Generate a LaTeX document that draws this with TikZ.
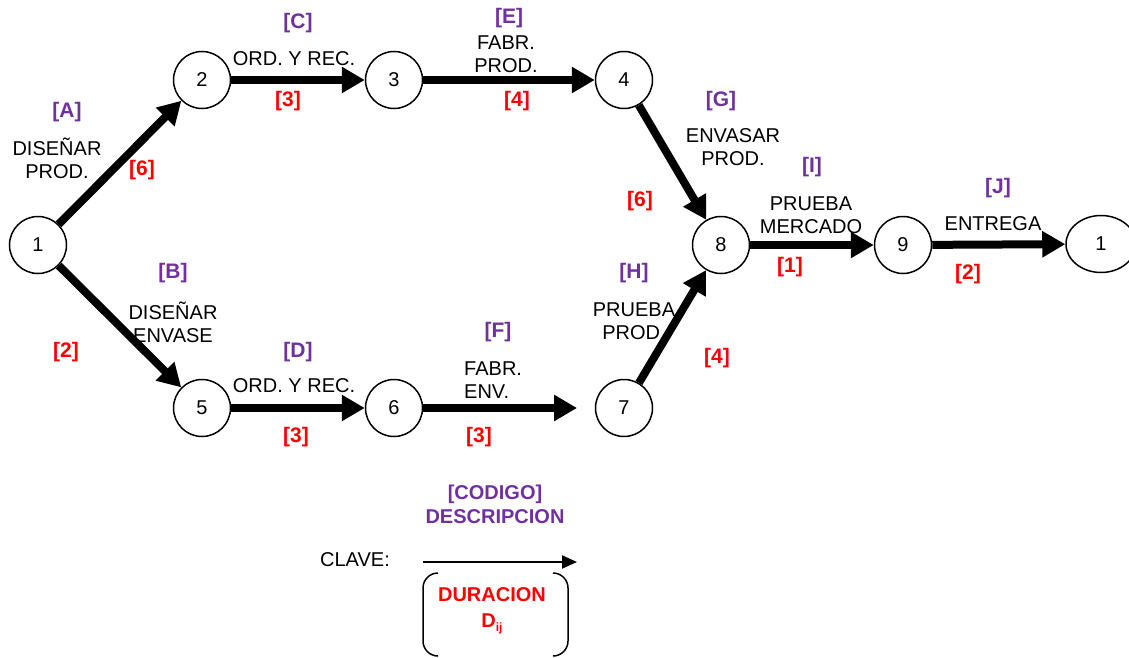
\documentclass[tikz,border=0pt]{standalone}
\usepackage{fontspec}
\setmainfont{Liberation Sans}
\usetikzlibrary{arrows.meta, shapes.geometric}
\definecolor{codigo}{HTML}{7030A0}
\definecolor{duracion}{HTML}{FF0000}

\begin{document}
\begin{tikzpicture}[x=1pt, y=-1pt,
    evento/.style = {draw, circle, line width=1.5pt, minimum size=57pt, inner sep=0pt,
                     font=\fontsize{20}{23}\selectfont},
    act/.style    = {line width=8pt, -{Triangle[length=23pt, width=25pt]}},
    txt/.style    = {align=center, inner sep=0pt, font=\fontsize{20}{23}\selectfont},
    cod/.style    = {txt, text=codigo, font=\fontsize{21}{24}\selectfont\bfseries},
    dur/.style    = {txt, text=duracion, font=\fontsize{21}{24}\selectfont\bfseries}]
    \useasboundingbox (0,0) rectangle (1129,658);

    % events
    \node [evento] (e1) at (38,245) {1};
    \node [evento] (e2) at (202,80) {2};
    \node [evento] (e3) at (394,80) {3};
    \node [evento] (e4) at (624,80) {4};
    \node [evento] (e5) at (202,408) {5};
    \node [evento] (e6) at (394,408) {6};
    \node [evento] (e7) at (624,408) {7};
    \node [evento] (e8) at (721,245) {8};
    \node [evento] (e9) at (903,245) {9};
    \node [evento, ellipse, minimum width=70pt, minimum height=57pt] (e10) at (1101,244) {1};
    \coordinate (f7) at (577,408);

    % activities
    \draw [act] (e1) -- (e2);
    \draw [act] (e1) -- (e5);
    \draw [act] (e2) -- (e3);
    \draw [act] (e3) -- (e4);
    \draw [act] (e5) -- (e6);
    \draw [act] (e6) -- (f7);
    \draw [act] (e4) -- (e8);
    \draw [act] (e7) -- (e8);
    \draw [act] (e8) -- (e9);
    \draw [act] (e9) -- (e10);

    % A
    \node [cod] (cA) at (67,112) {[A]};
    \node [txt] (dA) at (57,158) {DISEÑAR\\PROD.};
    \node [dur] (tA) at (142,170) {[6]};
    % B
    \node [cod] (cB) at (173,273) {[B]};
    \node [txt] (dB) at (173,322) {DISEÑAR\\ENVASE};
    \node [dur] (tB) at (66,352) {[2]};
    % C
    \node [cod] (cC) at (298,23) {[C]};
    \node [txt] (dC) at (294,59) {ORD. Y REC.};
    \node [dur] (tC) at (288,101) {[3]};
    % D
    \node [cod] (cD) at (298,352) {[D]};
    \node [txt] (dD) at (294,386) {ORD. Y REC.};
    \node [dur] (tD) at (296,437) {[3]};
    % E
    \node [cod] (cE) at (509,18) {[E]};
    \node [txt] (dE) at (506,54) {FABR.\\PROD.};
    \node [dur] (tE) at (517,101) {[4]};
    % F
    \node [cod] (cF) at (498,332) {[F]};
    \node [txt, align=left, anchor=west] (dF) at (464,380) {FABR.\\ENV.};
    \node [dur] (tF) at (479,437) {[3]};
    % G
    \node [cod] (cG) at (721,101) {[G]};
    \node [txt] (dG) at (733,147) {ENVASAR\\PROD.};
    \node [dur] (tG) at (640,201) {[6]};
    % H
    \node [cod] (cH) at (634,273) {[H]};
    \node [txt] (dH) at (634,321) {PRUEBA\\PROD.};
    \node [dur] (tH) at (717,358) {[4]};
    % I
    \node [cod] (cI) at (812,167) {[I]};
    \node [txt] (dI) at (811,215) {PRUEBA\\MERCADO};
    \node [dur] (tI) at (790,267) {[1]};
    % J
    \node [cod] (cJ) at (998,188) {[J]};
    \node [txt] (dJ) at (993,224) {ENTREGA};
    \node [dur] (tJ) at (968,274) {[2]};

    % key
    \node [cod, font=\fontsize{20}{24}\selectfont\bfseries] (kc) at (495,504) {[CODIGO]\\DESCRIPCION};
    \node [txt] (clave) at (355,560) {CLAVE:};
    \coordinate (k1) at (423,562);
    \coordinate (k2) at (577,562);
    \draw [line width=2pt, -{Triangle[length=15pt, width=13pt]}] (k1) -- (k2);
    \draw [line width=1.5pt, rounded corners=15pt] (438,573) -- (423,573) -- (423,656) -- (438,656);
    \draw [line width=1.5pt, rounded corners=15pt] (553,573) -- (568,573) -- (568,656) -- (553,656);
    \node [dur, font=\fontsize{20}{26}\selectfont\bfseries] (kd) at (492,611) {DURACION\\D\raisebox{-4pt}{\fontsize{12}{12}\selectfont ij}};
\end{tikzpicture}
\end{document}
